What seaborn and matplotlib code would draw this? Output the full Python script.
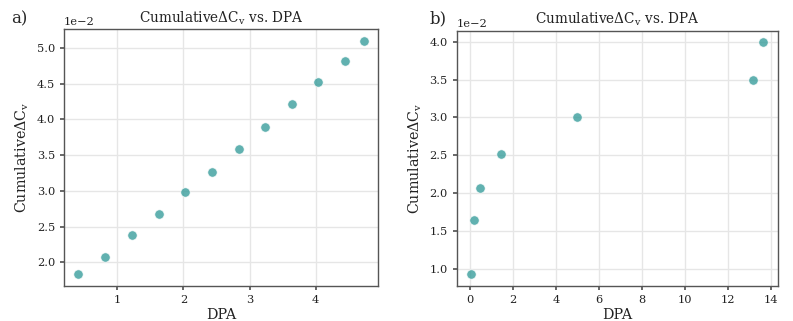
import matplotlib
matplotlib.use("Agg")
import matplotlib.pyplot as plt
import seaborn as sns
import pandas as pd

# data (y in absolute units, shown with 1e-2 offset)
dpa_a = [0.41, 0.82, 1.22, 1.63, 2.03, 2.43, 2.84, 3.24, 3.64, 4.04, 4.45, 4.73]
dcv_a = [1.83, 2.07, 2.38, 2.67, 2.98, 3.27, 3.58, 3.89, 4.21, 4.52, 4.82, 5.10]
dpa_b = [0.05, 0.19, 0.46, 1.43, 4.95, 13.15, 13.65]
dcv_b = [0.93, 1.65, 2.07, 2.52, 3.01, 3.50, 3.99]
panels = ["a)", "b)"]

df_a = pd.DataFrame({"DPA": dpa_a, "dCv": [v / 100 for v in dcv_a]})
df_b = pd.DataFrame({"DPA": dpa_b, "dCv": [v / 100 for v in dcv_b]})

sns.set_theme(style="whitegrid")
plt.rcParams["font.family"] = ["DejaVu Serif"]
plt.rcParams["mathtext.fontset"] = "dejavuserif"
plt.rcParams["axes.edgecolor"] = "#555555"
plt.rcParams["grid.color"] = "#e6e6e6"
plt.rcParams["xtick.bottom"] = True
plt.rcParams["ytick.left"] = True
plt.rcParams["xtick.major.size"] = 3
plt.rcParams["ytick.major.size"] = 3
plt.rcParams["xtick.color"] = "#555555"
plt.rcParams["ytick.color"] = "#555555"
plt.rcParams["xtick.labelcolor"] = "#222222"
plt.rcParams["ytick.labelcolor"] = "#222222"

fig, axes = plt.subplots(1, 2, figsize=(7.93, 3.21), dpi=100)
label = r"Cumulative$\Delta$C$_\mathrm{v}$"

axes[0].set_position([0.0807, 0.109, 0.3963, 0.800])
axes[1].set_position([0.5759, 0.109, 0.4052, 0.795])

for ax, df, tag, tx in zip(axes, [df_a, df_b], panels, [0.014, 0.542]):
    sns.scatterplot(data=df, x="DPA", y="dCv", ax=ax, color="#3a9e9c",
                    alpha=0.8, s=45, edgecolor="white", linewidth=0.5)
    ax.ticklabel_format(axis="y", style="sci", scilimits=(0, 0))
    ax.set_title(label + " vs. DPA", fontsize=9.8, color="#222222", pad=5)
    ax.set_xlabel("DPA", fontsize=10.3, color="#222222", labelpad=2)
    ax.set_ylabel(label, fontsize=10.3, color="#222222")
    ax.tick_params(labelsize=8.2)
    ax.yaxis.get_offset_text().set_fontsize(8.2)
    for sp in ax.spines.values():
        sp.set_linewidth(1.0)
    fig.text(tx, 0.915, tag, fontsize=12, ha="left", va="bottom")

axes[0].set_xticks([1, 2, 3, 4])
axes[1].set_xticks([0, 2, 4, 6, 8, 10, 12, 14])

fig.savefig("out.png", dpi=100)
